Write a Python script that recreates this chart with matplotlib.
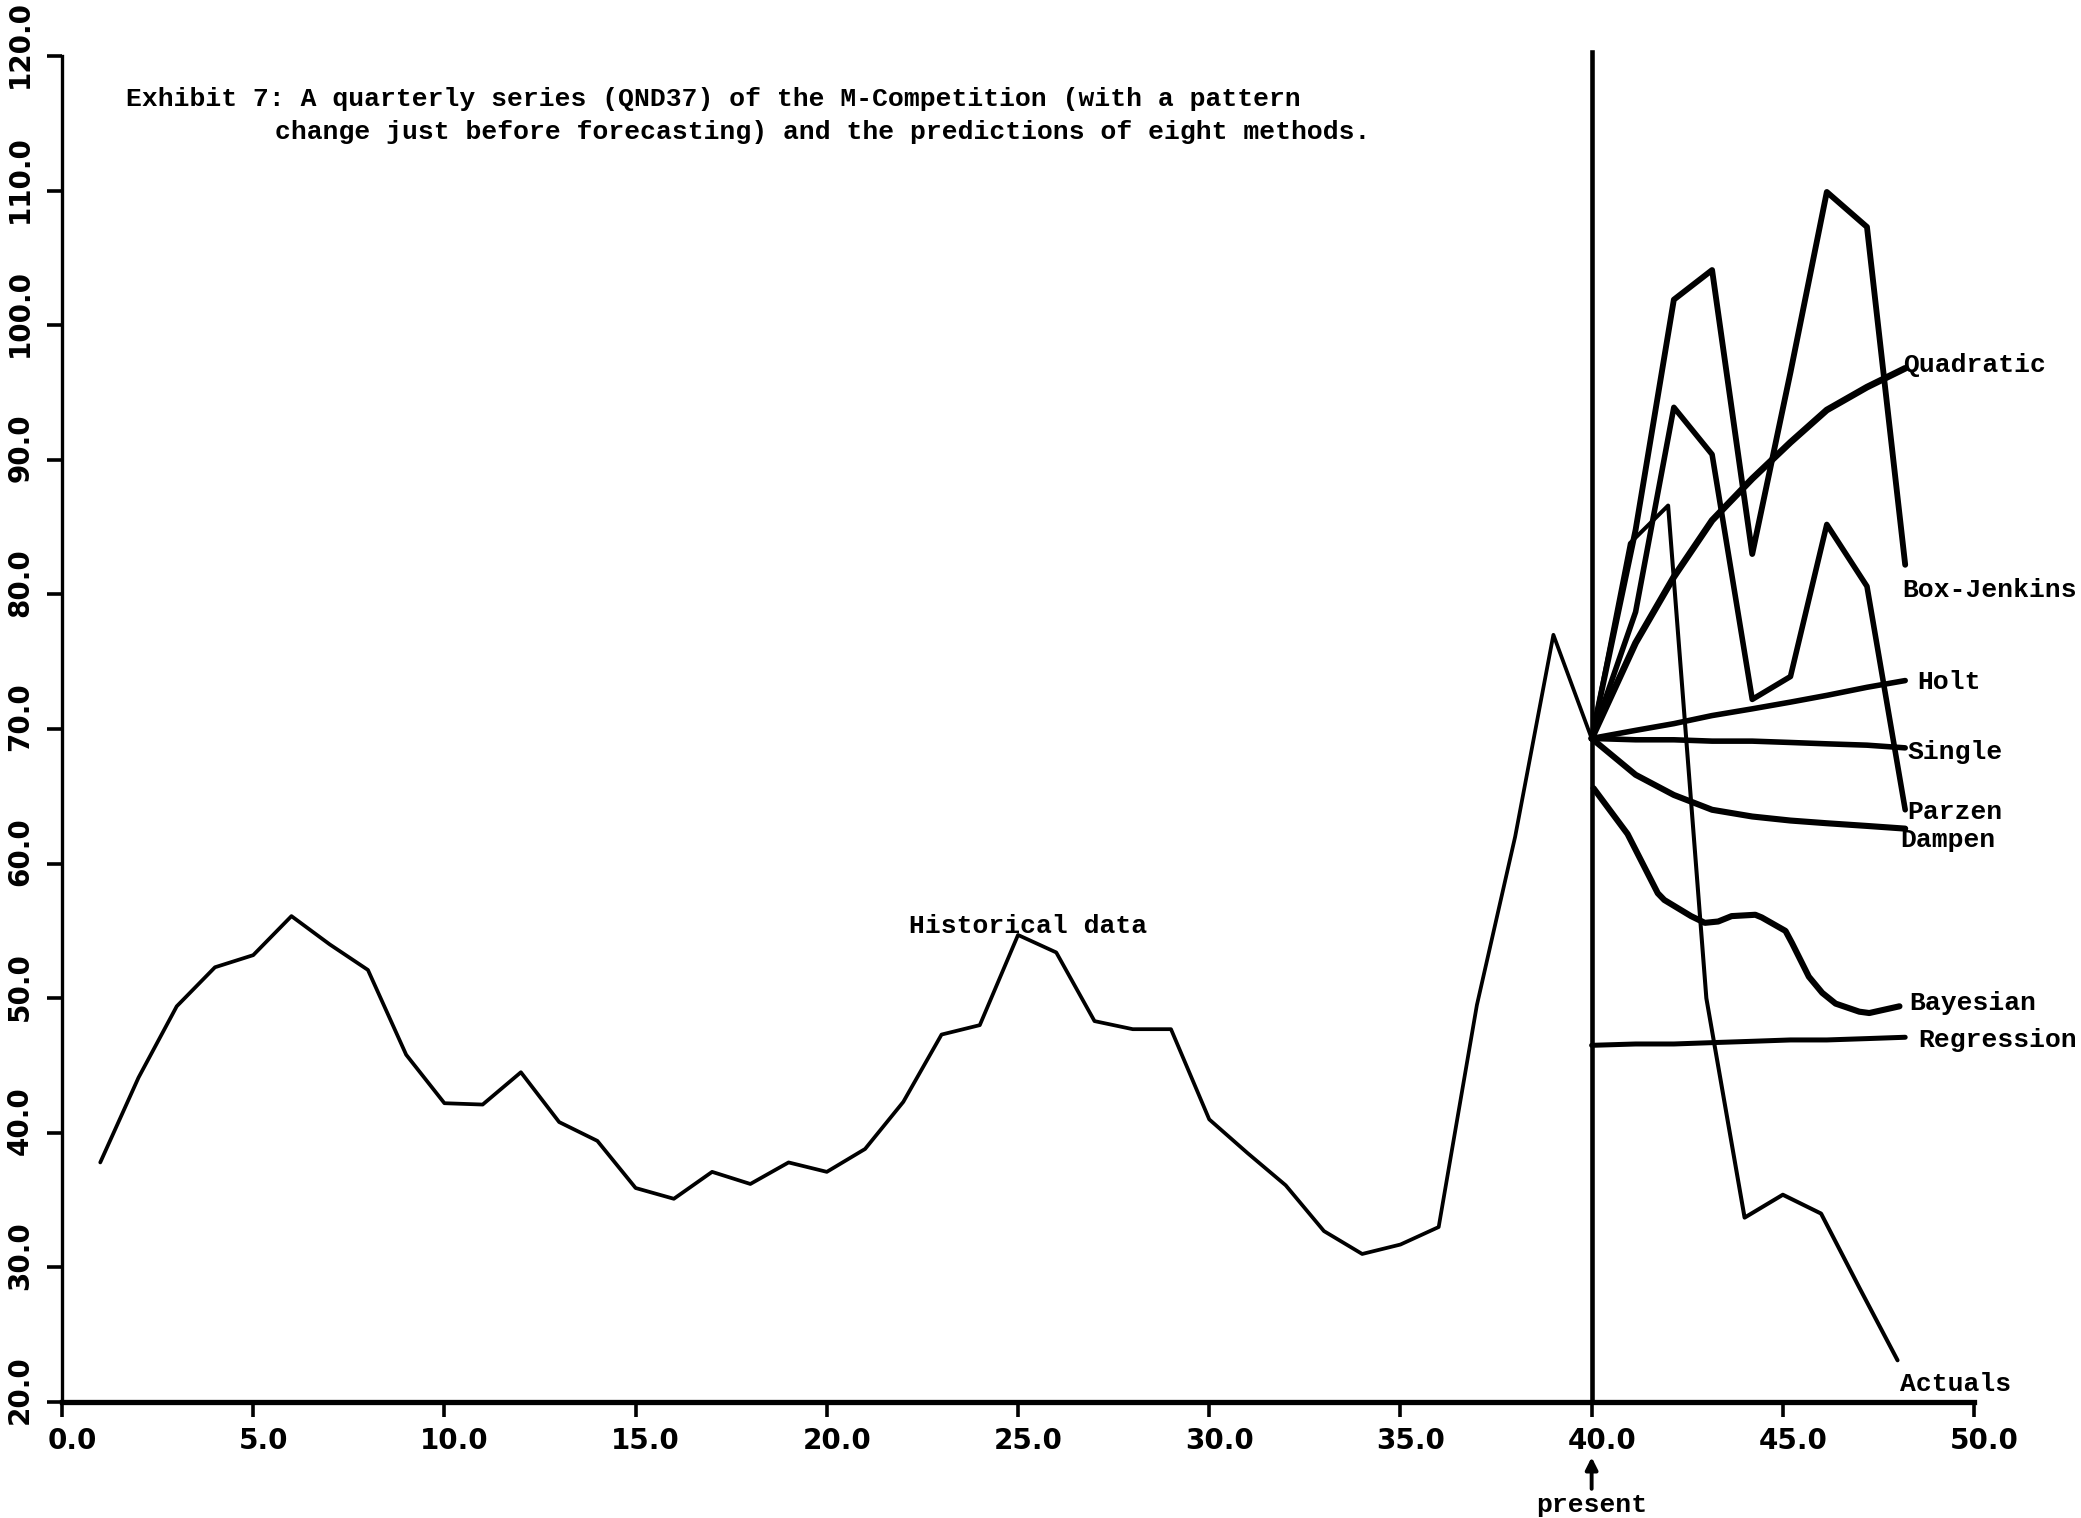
import numpy as np
import matplotlib.pyplot as plt
from matplotlib.transforms import ScaledTranslation


# =========================
# DATA (read off the exhibit)
# =========================

HIST_T = np.arange(1, 41)
HIST_V = [
    37.8, 44.1, 49.4, 52.3, 53.2, 56.1, 54.0, 52.1, 45.8, 42.2,
    42.1, 44.5, 40.8, 39.4, 35.9, 35.1, 37.1, 36.2, 37.8, 37.1,
    38.8, 42.3, 47.3, 48.0, 54.7, 53.4, 48.3, 47.7, 47.7, 41.0,
    38.5, 36.1, 32.7, 31.0, 31.7, 33.0, 49.5, 62.0, 77.0, 69.3,
]

ACT_T = [40, 41, 42, 43, 44, 45, 46, 47, 48]
ACT_V = [69.3, 83.8, 86.6, 50.0, 33.7, 35.4, 34.0, 28.5, 23.1]

# forecast horizons as they sit on the plot
FC_T = [40.0, 41.15, 42.15, 43.15, 44.2, 45.2, 46.15, 47.2, 48.2]

BOXJ_V = [69.3, 84.8, 101.9, 104.1, 83.0, 96.5, 109.9, 107.3, 82.2]
PARZEN_V = [69.3, 78.7, 93.9, 90.4, 72.2, 73.9, 85.2, 80.6, 64.0]
QUAD_V = [69.3, 76.4, 81.3, 85.5, 88.6, 91.3, 93.7, 95.4, 96.8]
HOLT_V = [69.3, 69.9, 70.4, 71.0, 71.5, 72.0, 72.5, 73.1, 73.6]
SINGLE_V = [69.3, 69.2, 69.2, 69.1, 69.1, 69.0, 68.9, 68.8, 68.6]
DAMPEN_V = [69.3, 66.6, 65.1, 64.0, 63.5, 63.2, 63.0, 62.8, 62.6]
REGR_V = [46.5, 46.6, 46.6, 46.7, 46.8, 46.9, 46.9, 47.0, 47.1]

BAYES_T = [40.05, 40.94, 41.73, 41.9, 42.6, 42.96, 43.31, 43.66, 44.28,
           44.45, 45.07, 45.24, 45.68, 46.03, 46.38, 47.0, 47.26, 48.05]
BAYES_V = [65.6, 62.2, 57.8, 57.3, 56.1, 55.6, 55.7, 56.1, 56.2,
           56.0, 55.0, 54.1, 51.6, 50.4, 49.6, 49.0, 48.9, 49.4]

PRESENT_T = 40

X_TICKS = np.arange(0, 51, 5)
Y_TICKS = np.arange(20, 121, 10)

# label text, x, baseline y
LABELS = [
    ("Quadratic", 48.14, 96.5),
    ("Box-Jenkins", 48.12, 79.8),
    ("Holt", 48.51, 73.0),
    ("Single", 48.25, 67.8),
    ("Parzen", 48.25, 63.3),
    ("Dampen", 48.08, 61.2),
    ("Bayesian", 48.30, 49.1),
    ("Regression", 48.54, 46.4),
    ("Actuals", 48.07, 20.8),
    ("Historical data", 22.15, 54.85),
]

TITLE_1 = "Exhibit 7: A quarterly series (QND37) of the M-Competition (with a pattern"
TITLE_2 = "change just before forecasting) and the predictions of eight methods."

MONO = ["Liberation Mono", "DejaVu Sans Mono"]


# =========================
# PLOT
# =========================

fig = plt.figure(figsize=(20.81, 15.18), dpi=100)
ax = fig.add_axes([0.0298, 0.0764, 0.9188, 0.8867])
ax.set_xlim(0, 50)
ax.set_ylim(20, 120)

for side in ["top", "right"]:
    ax.spines[side].set_visible(False)
ax.spines["bottom"].set_linewidth(3.8)
ax.spines["left"].set_linewidth(2.4)

ax.set_xticks(X_TICKS)
ax.set_xticklabels([f"{v:.1f}" for v in X_TICKS])
ax.set_yticks(Y_TICKS)
ax.set_yticklabels([f"{v:.1f}" for v in Y_TICKS])
ax.tick_params(direction="out", length=11, width=2.6, labelsize=20)
ax.tick_params(axis="x", pad=7)
ax.tick_params(axis="y", pad=9, labelrotation=90)

for lab in ax.get_xticklabels() + ax.get_yticklabels():
    lab.set_fontweight("heavy")
dx = ScaledTranslation(0.10, 0, fig.dpi_scale_trans)
for lab in ax.get_xticklabels():
    lab.set_transform(lab.get_transform() + dx)
dy = ScaledTranslation(0, 0.12, fig.dpi_scale_trans)
for lab in ax.get_yticklabels():
    lab.set_verticalalignment("center")
    lab.set_transform(lab.get_transform() + dy)

kw = dict(color="black", solid_capstyle="round", solid_joinstyle="round")

ax.plot(HIST_T, HIST_V, lw=2.7, **kw)
ax.axvline(PRESENT_T, ymin=0, ymax=1.003, lw=3.3, color="black", clip_on=False)

ax.plot(ACT_T, ACT_V, lw=2.9, **kw)
ax.plot(FC_T, BOXJ_V, lw=4.2, **kw)
ax.plot(FC_T, PARZEN_V, lw=4.0, **kw)
ax.plot(FC_T, QUAD_V, lw=4.8, **kw)
ax.plot(FC_T, HOLT_V, lw=4.0, **kw)
ax.plot(FC_T, SINGLE_V, lw=4.0, **kw)
ax.plot(FC_T, DAMPEN_V, lw=4.4, **kw)
ax.plot(FC_T, REGR_V, lw=3.6, **kw)
ax.plot(BAYES_T, BAYES_V, lw=4.4, **kw)

for text, x, y in LABELS:
    ax.text(x, y, text, family=MONO, fontsize=19, va="baseline", ha="left",
            fontweight="bold")

ax.text(1.67, 116.3, TITLE_1, family=MONO, fontsize=19, va="baseline",
        ha="left", fontweight="bold")
ax.text(5.57, 113.8, TITLE_2, family=MONO, fontsize=19, va="baseline",
        ha="left", fontweight="bold")

ax.annotate(
    "present",
    xy=(PRESENT_T, -0.041), xycoords=("data", "axes fraction"),
    xytext=(PRESENT_T, -0.0765), textcoords=("data", "axes fraction"),
    ha="center", va="center", family=MONO, fontsize=19, fontweight="bold",
    arrowprops=dict(arrowstyle="-|>", lw=2.8, color="black",
                    mutation_scale=18, shrinkA=1, shrinkB=0),
    annotation_clip=False,
)

fig.savefig("out.png", dpi=100, facecolor="white")
